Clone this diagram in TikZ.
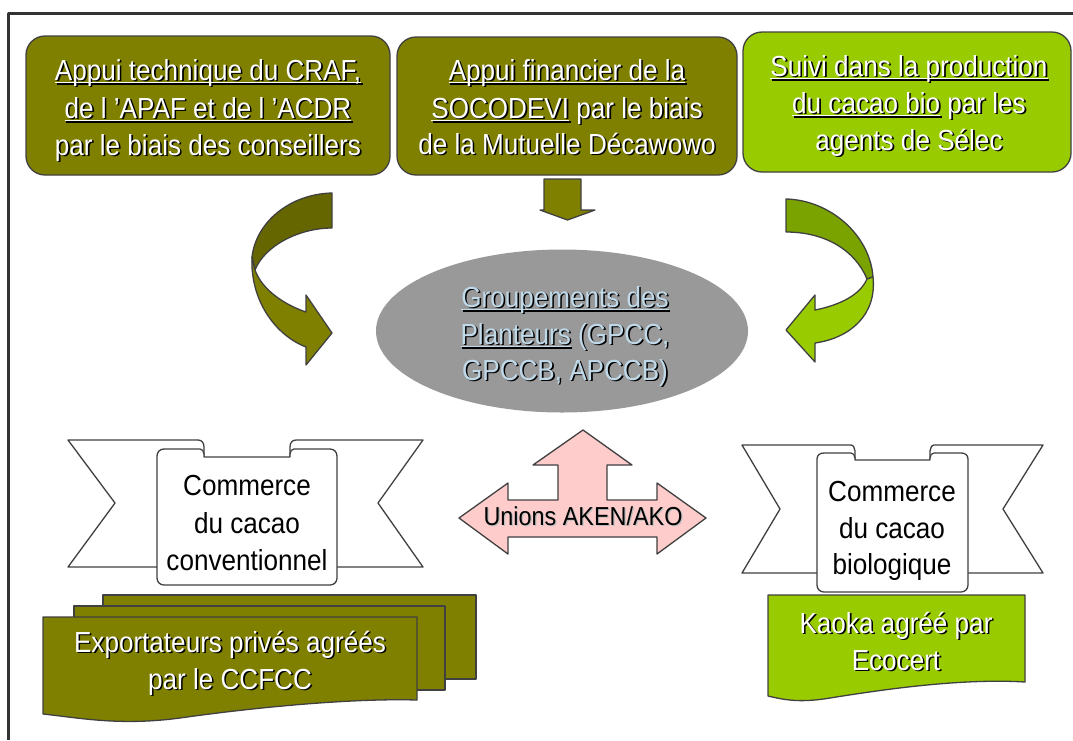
\documentclass[tikz,border=0pt]{standalone}
\usepackage{fontspec}
\setmainfont{Liberation Sans}[FakeStretch=0.9]
\usetikzlibrary{shapes.geometric,calc}

\definecolor{edgecol}{HTML}{404040}
\definecolor{framecol}{HTML}{333333}
\definecolor{olivefill}{HTML}{808000}
\definecolor{olivedark}{HTML}{666600}
\definecolor{limefill}{HTML}{99CC00}
\definecolor{limedark}{HTML}{7AA300}
\definecolor{ellgray}{HTML}{999999}
\definecolor{ellblue}{RGB}{192,217,233}
\definecolor{pinkfill}{HTML}{FFCCCC}

% underline drawn a fixed distance under the baseline
\newcommand\undl[1]{\setbox0\hbox{#1}\rlap{\rule[-3.4pt]{\wd0}{1.8pt}}\box0\relax}
% one line of text with a dark drop shadow
\newcommand\stxt[5][txt]{%
  \node[#1, text=black] (#2-s) at ($(#3)+(1.6,1.6)$) {#5};
  \node[#1, text=#4] (#2) at (#3) {#5};}

\tikzset{
  txt/.style={anchor=base, inner sep=0pt, font=\fontsize{29}{35}\selectfont},
  small/.style={anchor=base, inner sep=0pt, font=\fontsize{26}{30}\selectfont},
  box/.style={draw=edgecol, line width=1.3pt, rounded corners=19pt},
  outl/.style={draw=edgecol, line width=1.3pt},
}

\begin{document}
\begin{tikzpicture}[x=1pt, y=-1pt, line join=round]
\useasboundingbox (0,0) rectangle (1073,740);

% outer frame
\draw[framecol, line width=3pt] (8,740) -- (8,13) -- (1073,13);

% ---- top boxes
\node[box, fill=olivefill, minimum width=364pt, minimum height=139pt] (b1) at (208,105.5) {};
\node[box, fill=olivefill, minimum width=340pt, minimum height=138pt] (b2) at (567,106) {};
\node[box, fill=limefill, minimum width=328pt, minimum height=140pt] (b3) at (907,102) {};

\stxt{b1l1}{208,80}{white}{\undl{Appui technique du CRAF,}}
\stxt{b1l2}{208,118}{white}{\undl{de l ’APAF et de l ’ACDR}}
\stxt{b1l3}{208,155}{white}{par le biais des conseillers}

\stxt{b2l1}{567,80}{white}{\undl{Appui financier de la}}
\stxt{b2l2}{567,118}{white}{\undl{SOCODEVI} par le biais}
\stxt{b2l3}{567,154}{white}{de la Mutuelle Décawowo}

\stxt{b3l1}{909,76}{white}{\undl{Suivi dans la production}}
\stxt{b3l2}{909,113}{white}{\undl{du cacao bio} par les}
\stxt{b3l3}{909,150}{white}{agents de Sélec}

% ---- short down arrow under the middle box
\draw[outl, fill=olivefill] (544,179) -- (581,179) -- (581,210) -- (595,210) -- (567.5,220)
  -- (540,210) -- (544,210) -- cycle;

% ---- central ellipse
\node[ellipse, fill=ellgray, minimum width=372pt, minimum height=163pt, inner sep=0pt] (gp) at (562,331) {};
\stxt{g1}{565,307}{ellblue}{\undl{Groupements des}}
\stxt{g2}{565,344}{ellblue}{\undl{Planteurs} (GPCC,}
\stxt{g3}{565,380}{ellblue}{GPCCB, APCCB)}

% ---- left curved arrow
\draw[outl, fill=olivedark] (332,193) .. controls (290,194) and (256,222) .. (252,257)
  -- (255,270) .. controls (265,245) and (300,228) .. (332,228) -- cycle;
\draw[outl, fill=olivefill] (252,257) .. controls (250,300) and (275,335) .. (306,347)
  -- (306,365) -- (332,333) -- (306,295) -- (306,312)
  .. controls (285,305) and (262,290) .. (255,270) -- cycle;

% ---- right curved arrow
\draw[outl, fill=limedark] (786,199) .. controls (830,200) and (870,235) .. (873,277)
  -- (867,279) .. controls (855,250) and (825,232) .. (786,232) -- cycle;
\draw[outl, fill=limefill] (873,277) .. controls (877,315) and (850,338) .. (815,343)
  -- (815,362) -- (786,330) -- (815,295) -- (815,310)
  .. controls (840,305) and (860,295) .. (867,279) -- cycle;

% ---- three-way arrow
\draw[outl, fill=pinkfill] (583,430) -- (632,465) -- (607,465) -- (607,500) -- (657,500)
  -- (657,483) -- (706,518) -- (657,554) -- (657,537) -- (508,537) -- (508,554)
  -- (459,518) -- (508,483) -- (508,500) -- (558,500) -- (558,465) -- (533,465) -- cycle;
\node[small, text=black!25] (un-s) at (584.3,526.3) {Unions AKEN/AKO};
\node[small, text=black] (un) at (583,525) {Unions AKEN/AKO};

% ---- left scroll
\draw[outl, fill=white] (68,440) -- (198,440) .. controls (202,440) and (204,443) .. (204,447)
  -- (204,567) -- (68,567) -- (115,503) -- cycle;
\draw[outl, fill=white] (423,440) -- (296,440) .. controls (292,440) and (290,443) .. (290,447)
  -- (290,567) -- (423,567) -- (378,503) -- cycle;
\draw[outl, fill=white] (157,456) .. controls (157,452) and (160,449) .. (164,449) -- (200,449)
  .. controls (202,449) and (204,451) .. (204,454) -- (204,457) -- (290,457) -- (290,454)
  .. controls (290,451) and (292,449) .. (294,449) -- (330,449)
  .. controls (334,449) and (337,452) .. (337,456) -- (337,578)
  .. controls (337,582) and (334,585) .. (330,585) -- (164,585)
  .. controls (160,585) and (157,582) .. (157,578) -- cycle;
\node[txt] (c1l1) at (247,495) {Commerce};
\node[txt] (c1l2) at (247,533) {du cacao};
\node[txt] (c1l3) at (247,570) {conventionnel};

% ---- right scroll
\draw[outl, fill=white] (742,445) -- (851,445) .. controls (853,445) and (855,448) .. (855,451)
  -- (855,573) -- (742,573) -- (780,509) -- cycle;
\draw[outl, fill=white] (1043,445) -- (934,445) .. controls (932,445) and (930,448) .. (930,451)
  -- (930,573) -- (1043,573) -- (1003,509) -- cycle;
\draw[outl, fill=white] (817,459) .. controls (817,455) and (820,453) .. (824,453) -- (851,453)
  .. controls (853,453) and (855,455) .. (855,458) -- (855,460) -- (930,460) -- (930,458)
  .. controls (930,455) and (932,453) .. (934,453) -- (961,453)
  .. controls (965,453) and (968,455) .. (968,459) -- (968,585)
  .. controls (968,589) and (965,592) .. (961,592) -- (824,592)
  .. controls (820,592) and (817,589) .. (817,585) -- cycle;
\node[txt] (c2l1) at (892,501) {Commerce};
\node[txt] (c2l2) at (892,538) {du cacao};
\node[txt] (c2l3) at (892,574) {biologique};

% ---- stacked documents (left)
\draw[outl, fill=olivefill] (103,595) -- (476,595) -- (476,679) -- (103,679) -- cycle;
\draw[outl, fill=olivefill] (74,606) -- (445,606) -- (445,690) -- (74,690) -- cycle;
\draw[outl, fill=olivefill] (43,617) -- (417,617) -- (417,700)
  .. controls (350,698) and (250,708) .. (180,718)
  .. controls (120,726) and (80,718) .. (43,714) -- cycle;
\stxt{ex1}{230,652}{white}{Exportateurs privés agréés}
\stxt{ex2}{230,689}{white}{par le CCFCC}

% ---- single document (right)
\draw[outl, fill=limefill] (768,595) -- (1025,595) -- (1025,682)
  .. controls (960,678) and (880,690) .. (830,698)
  .. controls (800,703) and (785,700) .. (768,696) -- cycle;
\stxt{ka1}{896,633}{white}{Kaoka agréé par}
\stxt{ka2}{896,670}{white}{Ecocert}

\end{tikzpicture}
\end{document}
